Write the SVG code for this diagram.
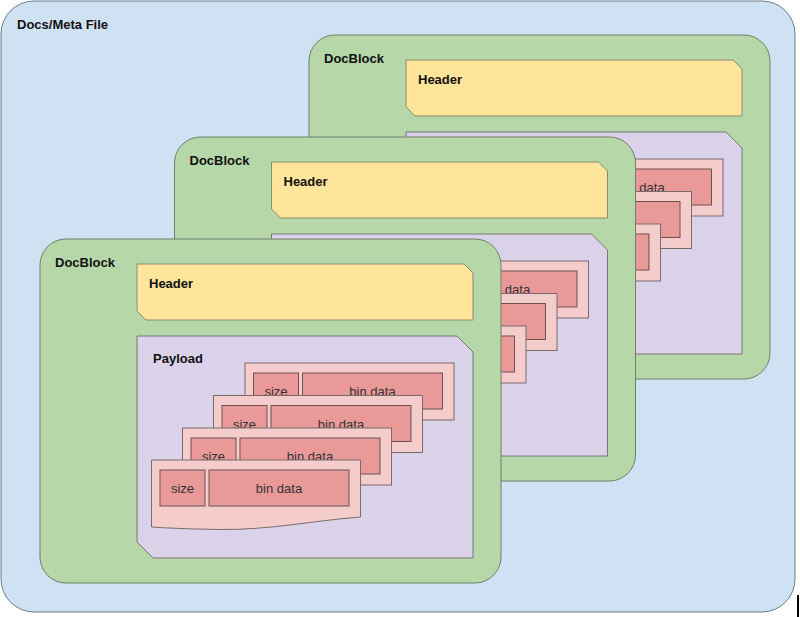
<svg xmlns="http://www.w3.org/2000/svg" width="800" height="617" viewBox="0 0 800 617">
<style>
.outer{fill:#cfe2f3;stroke:#6b7a88;stroke-width:1}
.block{fill:#b6d7a8;stroke:#6f7f68;stroke-width:1}
.hdr{fill:#ffe599;stroke:#8a8a70;stroke-width:1}
.pay{fill:#d9d2e9;stroke:#777;stroke-width:1}
.rec{fill:#f4cccc;stroke:#7a6a6a;stroke-width:1}
.cell{fill:#ea9999;stroke:#6e5050;stroke-width:1}
.t{font-family:"Liberation Sans",Arial,sans-serif;font-size:13px;font-weight:bold;fill:#111}
.c{font-family:"Liberation Sans",Arial,sans-serif;font-size:13px;fill:#333;text-anchor:middle}
</style>
<g id="docs-meta-file">
<rect class="outer" x="1" y="1" width="794" height="611" rx="33" ry="33"/>
<text class="t" x="17" y="29">Docs/Meta File</text>
</g>
<g id="docblock-back" transform="translate(269,-204)">
<rect class="block" x="40" y="239" width="461" height="344" rx="26" ry="26"/>
<text class="t" x="55" y="267">DocBlock</text>
<g id="header-back"><path class="hdr" d="M137,264 H464 L473,273 V320 H146 L137,311 Z"/><text class="t" x="149" y="288">Header</text></g>
<g id="payload-back">
<path class="pay" d="M137,336 H457 L473,352 V558 H153 L137,542 Z"/>
<text class="t" x="153" y="363">Payload</text>
<rect class="rec" x="245" y="363" width="209" height="57"/><rect class="cell" x="253.5" y="373" width="45" height="36"/><rect class="cell" x="302.5" y="373" width="140" height="36"/><text class="c" x="276" y="396">size</text><text class="c" x="372.5" y="396">bin data</text>
<rect class="rec" x="213.5" y="395.5" width="209" height="57"/><rect class="cell" x="222" y="405.5" width="45" height="36"/><rect class="cell" x="271" y="405.5" width="140" height="36"/><text class="c" x="244.5" y="428.5">size</text><text class="c" x="341" y="428.5">bin data</text>
<rect class="rec" x="182.5" y="428" width="209" height="57"/><rect class="cell" x="191" y="438" width="45" height="36"/><rect class="cell" x="240" y="438" width="140" height="36"/><text class="c" x="213.5" y="461">size</text><text class="c" x="310" y="461">bin data</text>
<path class="rec" d="M151.5,460 H360.5 V517 C310,521 270,530 220,529.5 C190,529 165,528 151.5,527 Z"/><rect class="cell" x="160" y="470" width="45" height="36"/><rect class="cell" x="209" y="470" width="140" height="36"/><text class="c" x="182.5" y="493">size</text><text class="c" x="279" y="493">bin data</text>
</g>
</g>
<g id="docblock-middle" transform="translate(134.5,-102)">
<rect class="block" x="40" y="239" width="461" height="344" rx="26" ry="26"/>
<text class="t" x="55" y="267">DocBlock</text>
<g id="header-middle"><path class="hdr" d="M137,264 H464 L473,273 V320 H146 L137,311 Z"/><text class="t" x="149" y="288">Header</text></g>
<g id="payload-middle">
<path class="pay" d="M137,336 H457 L473,352 V558 H153 L137,542 Z"/>
<text class="t" x="153" y="363">Payload</text>
<rect class="rec" x="245" y="363" width="209" height="57"/><rect class="cell" x="253.5" y="373" width="45" height="36"/><rect class="cell" x="302.5" y="373" width="140" height="36"/><text class="c" x="276" y="396">size</text><text class="c" x="372.5" y="396">bin data</text>
<rect class="rec" x="213.5" y="395.5" width="209" height="57"/><rect class="cell" x="222" y="405.5" width="45" height="36"/><rect class="cell" x="271" y="405.5" width="140" height="36"/><text class="c" x="244.5" y="428.5">size</text><text class="c" x="341" y="428.5">bin data</text>
<rect class="rec" x="182.5" y="428" width="209" height="57"/><rect class="cell" x="191" y="438" width="45" height="36"/><rect class="cell" x="240" y="438" width="140" height="36"/><text class="c" x="213.5" y="461">size</text><text class="c" x="310" y="461">bin data</text>
<path class="rec" d="M151.5,460 H360.5 V517 C310,521 270,530 220,529.5 C190,529 165,528 151.5,527 Z"/><rect class="cell" x="160" y="470" width="45" height="36"/><rect class="cell" x="209" y="470" width="140" height="36"/><text class="c" x="182.5" y="493">size</text><text class="c" x="279" y="493">bin data</text>
</g>
</g>
<g id="docblock-front">
<rect class="block" x="40" y="239" width="461" height="344" rx="26" ry="26"/>
<text class="t" x="55" y="267">DocBlock</text>
<g id="header-front"><path class="hdr" d="M137,264 H464 L473,273 V320 H146 L137,311 Z"/><text class="t" x="149" y="288">Header</text></g>
<g id="payload-front">
<path class="pay" d="M137,336 H457 L473,352 V558 H153 L137,542 Z"/>
<text class="t" x="153" y="363">Payload</text>
<g id="record-1"><rect class="rec" x="245" y="363" width="209" height="57"/><rect class="cell" x="253.5" y="373" width="45" height="36"/><rect class="cell" x="302.5" y="373" width="140" height="36"/><text class="c" x="276" y="396">size</text><text class="c" x="372.5" y="396">bin data</text></g>
<g id="record-2"><rect class="rec" x="213.5" y="395.5" width="209" height="57"/><rect class="cell" x="222" y="405.5" width="45" height="36"/><rect class="cell" x="271" y="405.5" width="140" height="36"/><text class="c" x="244.5" y="428.5">size</text><text class="c" x="341" y="428.5">bin data</text></g>
<g id="record-3"><rect class="rec" x="182.5" y="428" width="209" height="57"/><rect class="cell" x="191" y="438" width="45" height="36"/><rect class="cell" x="240" y="438" width="140" height="36"/><text class="c" x="213.5" y="461">size</text><text class="c" x="310" y="461">bin data</text></g>
<g id="record-4"><path class="rec" d="M151.5,460 H360.5 V517 C310,521 270,530 220,529.5 C190,529 165,528 151.5,527 Z"/><rect class="cell" x="160" y="470" width="45" height="36"/><rect class="cell" x="209" y="470" width="140" height="36"/><text class="c" x="182.5" y="493">size</text><text class="c" x="279" y="493">bin data</text></g>
</g>
</g>
<g id="connectors"></g>
<rect x="797" y="595" width="2" height="22" fill="#000"/>
</svg>
